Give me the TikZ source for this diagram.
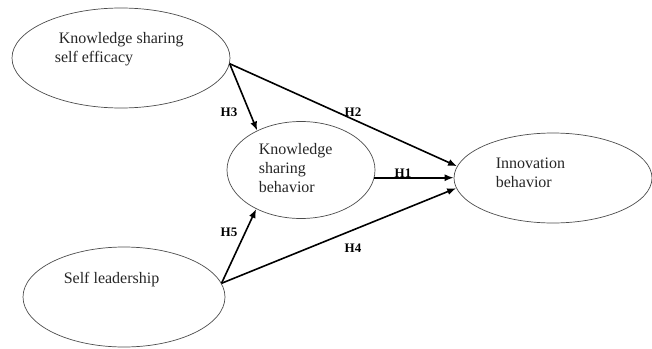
\documentclass[tikz,border=0pt]{standalone}
\usepackage{fontspec}
\setmainfont{Liberation Serif}
\usetikzlibrary{arrows.meta,shapes.geometric}
\tikzset{
  var_e/.style = {ellipse, draw=black!70, line width=0.7pt, inner sep=0pt},% variable, ellipse
  var_t/.style = {align=left, inner sep=0pt, anchor=north west, text=black!85,
    font=\fontsize{16}{19}\selectfont},% variable, texte
  hyp_l/.style = {inner sep=0pt, font=\fontsize{13}{15}\selectfont\bfseries}% hypothese
}

\begin{document}
\begin{tikzpicture}[x=1pt, y=-1pt, ->, >={Latex[length=9pt,width=7pt]}, line width=1.6pt]
\useasboundingbox (0,0) rectangle (652,348);
\node [var_e, minimum width=218pt, minimum height=100pt] (ksse) at (121,58) {};
\node [var_e, minimum width=148pt, minimum height=97pt] (ksb) at (301,170) {};
\node [var_e, minimum width=202pt, minimum height=100pt] (sl) at (124,297) {};
\node [var_e, minimum width=198pt, minimum height=90pt] (ib) at (553,178) {};

\node [var_t] (ksse_t) at (54,32) {\hspace*{4pt}Knowledge sharing\\self efficacy};
\node [var_t] (ksb_t) at (258,143) {Knowledge\\sharing\\behavior};
\node [var_t, anchor=base west] (sl_t) at (63,283) {Self leadership};
\node [var_t] (ib_t) at (495,157) {Innovation\\behavior};

\draw (ksb.-6) -- (ksb.-6 -| ib.west);
\draw (ksse.-3) -- (ib.173);
\draw (ksse.-3) -- (ksb.138);
\draw (sl.8) -- (ib.186);
\draw (sl.8) -- (ksb.221);

\node [hyp_l] (h1) at (403,173) {H1};
\node [hyp_l] (h2) at (353,112) {H2};
\node [hyp_l] (h3) at (229,112) {H3};
\node [hyp_l] (h4) at (353,248) {H4};
\node [hyp_l] (h5) at (229,232) {H5};
\end{tikzpicture}
\end{document}
